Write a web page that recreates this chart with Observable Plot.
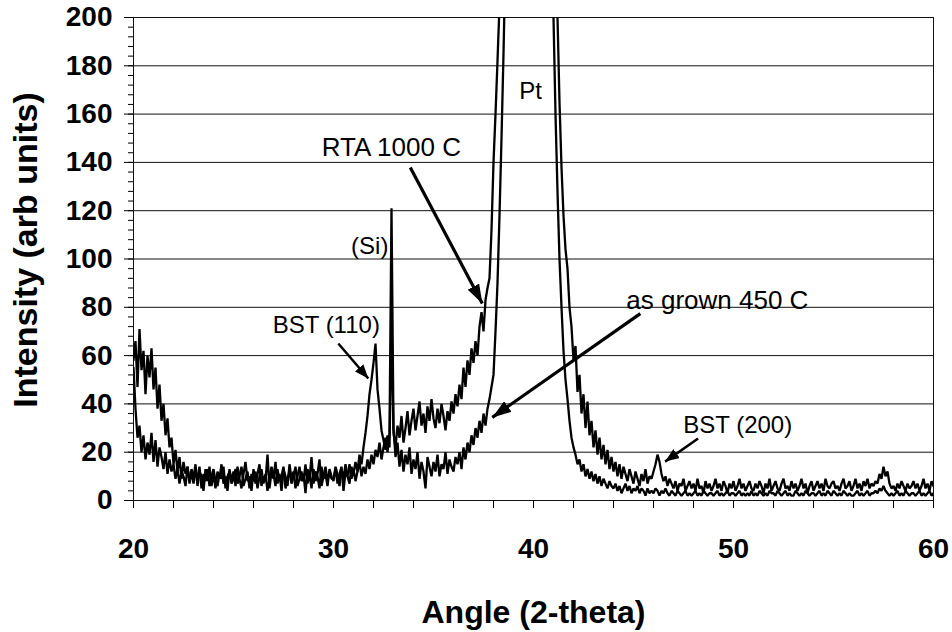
<!DOCTYPE html>
<html><head><meta charset="utf-8">
<script src="https://cdn.jsdelivr.net/npm/d3@7"></script>
<script src="https://cdn.jsdelivr.net/npm/@observablehq/plot@0.6"></script>
<style>html,body{margin:0;padding:0;background:#fff;overflow:hidden}#chart svg{display:block}</style>
</head><body><div id="chart"></div><script>
// ---- data ----
const angleStart = 20;
const angleStep = 0.1;
const rta1000C = [
 58,66,47,71,54,62,44,60,51,63,
 46,55,38,48,33,40,27,34,22,26,
 15,21,12,18,9,16,11,14,7,13,
 9,15,6,12,10,4,13,8,14,6,
 11,5,12,9,15,7,10,4,13,8,
 12,6,14,9,5,11,16,8,10,4,
 13,7,11,15,6,10,8,19,5,12,
 9,16,7,11,4,13,10,6,15,9,
 12,5,10,14,8,11,3,13,9,18,
 7,12,10,5,14,9,11,6,13,10,
 8,14,11,6,13,9,15,10,7,14,
 11,16,12,19,15,22,28,35,44,50,
 57,65,46,38,29,25,21,27,22,74,
 28,22,31,26,35,24,30,37,27,33,
 38,29,35,41,31,36,28,39,33,42,
 34,30,38,32,40,35,29,37,33,41,
 36,44,39,48,42,55,47,58,52,63,
 57,66,60,72,78,70,83,88,92,112,
 140,160,182,205,250,310,390,480,580,700,
 850,1000,1200,1350,1450,1500,1450,1350,1200,1050,
 900,780,660,560,480,420,370,330,300,275,
 255,228,200,165,138,118,104,96,80,72,
 58,64,45,52,36,44,30,41,27,33,
 22,29,19,26,17,23,15,21,13,18,
 12,16,10,15,9,14,11,8,13,10,
 7,12,9,6,11,8,13,7,10,9,
 12,15,19,16,11,8,10,6,9,7,
 5,8,4,7,6,9,4,6,8,5,
 7,4,9,5,6,3,8,5,7,4,
 6,9,5,7,4,8,6,3,7,5,
 8,4,6,9,5,7,4,6,8,5,
 4,7,5,8,6,3,7,5,9,4,
 6,8,5,4,7,9,5,6,4,8,
 5,7,4,6,9,5,7,3,6,8,
 4,6,8,5,7,4,9,6,5,7,
 8,5,6,4,7,9,5,6,8,4,
 6,9,5,7,4,8,6,9,5,7,
 6,8,7,11,9,14,10,12,7,5,
 6,4,7,5,8,6,4,7,5,6,
 8,5,7,4,6,9,5,7,4,8,
 6
];
const asGrown450C = [
 55,38,26,31,20,27,17,24,19,28,
 16,25,14,22,18,13,20,11,17,12,
 15,9,13,7,12,10,6,14,8,11,
 7,12,9,14,5,11,8,13,6,10,
 13,8,6,11,9,14,5,10,12,7,
 9,13,7,10,14,6,9,12,5,11,
 8,12,5,10,13,7,11,4,9,14,
 11,6,13,8,10,14,5,9,12,7,
 10,14,6,9,12,8,15,7,11,5,
 13,8,11,17,6,10,14,8,12,9,
 9,13,7,11,14,4,12,10,15,9,
 13,8,12,16,10,14,11,17,13,19,
 15,21,18,24,17,22,26,20,28,121,
 30,18,24,14,21,12,19,15,22,11,
 17,13,20,9,16,12,5,18,14,10,
 16,12,19,10,15,13,20,11,17,14,
 12,18,15,20,13,22,17,24,20,27,
 23,30,26,33,28,36,31,38,42,47,
 52,70,90,118,150,185,225,280,350,440,
 560,700,850,1000,1100,1150,1100,1000,900,780,
 680,600,530,470,420,370,330,295,262,230,
 200,160,128,100,80,62,50,42,33,26,
 22,19,15,17,12,15,10,13,9,12,
 8,11,7,10,6,9,7,5,8,6,
 5,7,4,6,3,5,7,4,6,3,
 5,4,6,3,5,4,2,5,3,4,
 3,5,4,2,4,3,5,3,2,4,
 3,2,4,3,2,3,4,2,3,2,
 3,4,2,3,2,4,3,2,3,3,
 2,3,4,2,3,2,3,4,2,3,
 3,2,3,4,2,3,2,3,2,4,
 2,3,2,4,3,2,3,2,4,3,
 3,2,4,3,2,3,4,2,3,2,
 2,4,3,2,3,2,4,3,2,3,
 3,2,3,4,2,3,2,4,3,2,
 4,3,2,3,2,4,3,2,3,2,
 2,3,4,2,3,2,3,4,2,3,
 3,4,3,5,4,6,4,3,2,3,
 2,3,4,2,3,2,4,3,2,3,
 3,2,3,4,2,3,2,3,4,2,
 3
];
const xTickValues = [20,22,24,26,28,30,32,34,36,38,40,42,44,46,48,50,52,54,56,58,60];
const xTickLabels = [20,30,40,50,60];
const yTickLabels = [0,20,40,60,80,100,120,140,160,180,200];
const yMinorTicks = [0,4,8,12,16,20,24,28,32,36,40,44,48,52,56,60,64,68,72,76,80,84,88,92,96,100,
  104,108,112,116,120,124,128,132,136,140,144,148,152,156,160,164,168,172,176,180,184,188,192,196,200];
const xTitle = "Angle (2-theta)";
const yTitle = "Intensity (arb units)";
const noteText = ["RTA 1000 C","Pt","(Si)","BST (110)","as grown 450 C","BST (200)"];
const noteX = [32.89, 39.86, 31.81, 29.64, 49.19, 50.21];
const noteY = [146.0, 169.4, 105.2, 72.5, 82.8, 31.1];
const arrowX1 = [33.84, 45.34, 30.24, 48.23];
const arrowY1 = [137.9, 77.4, 65.0, 25.7];
const arrowX2 = [37.44, 37.94, 31.74, 46.58];
const arrowY2 = [81.6, 34.4, 50.5, 16.1];

// ---- tables ----
const rows = [];
rta1000C.forEach((v, i) => rows.push({angle: +(angleStart + i * angleStep).toFixed(2), intensity: v, sample: "RTA 1000 C"}));
asGrown450C.forEach((v, i) => rows.push({angle: +(angleStart + i * angleStep).toFixed(2), intensity: v, sample: "as grown 450 C"}));
const notes = noteText.map((t, i) => ({text: t, x: noteX[i], y: noteY[i]}));
const arrows = arrowX1.map((x1, i) => ({x1, y1: arrowY1[i], x2: arrowX2[i], y2: arrowY2[i]}));

function headMarker(len, wid) {
  return (color, context) => {
    const doc = (context && context.document) || document;
    const ns = "http://www.w3.org/2000/svg";
    const m = doc.createElementNS(ns, "marker");
    m.setAttribute("markerUnits", "userSpaceOnUse");
    m.setAttribute("markerWidth", len);
    m.setAttribute("markerHeight", wid);
    m.setAttribute("refX", len);
    m.setAttribute("refY", wid / 2);
    m.setAttribute("orient", "auto");
    const p = doc.createElementNS(ns, "path");
    p.setAttribute("d", `M0,0L${len},${wid / 2}L0,${wid}Z`);
    p.setAttribute("fill", "black");
    p.setAttribute("stroke", "none");
    m.appendChild(p);
    return m;
  };
}

const font = "'Liberation Sans', Arial, Helvetica, sans-serif";
const chart = Plot.plot({
  width: 952,
  height: 632,
  marginLeft: 133,
  marginRight: 19,
  marginTop: 17,
  marginBottom: 132,
  style: {fontFamily: font, background: "white", color: "black", overflow: "visible"},
  x: {domain: [20, 60]},
  y: {domain: [0, 200]},
  marks: [
    Plot.ruleY(yTickLabels, {stroke: "#111", strokeWidth: 1}),
    Plot.ruleX([20, 60], {stroke: "#111", strokeWidth: 1}),
    Plot.line(rows, {x: "angle", y: "intensity", z: "sample", stroke: "black", strokeWidth: 2.3, strokeLinejoin: "miter", clip: true}),
    Plot.axisY(yMinorTicks, {tickSize: 5, tickFormat: () => "", label: null, stroke: "black"}),
    Plot.axisY(yTickLabels, {tickSize: 9, tickPadding: 12, fontSize: 28, fontWeight: "bold", fontFamily: font, label: null, stroke: "black", fill: "black"}),
    Plot.axisX(xTickValues, {tickSize: 8, tickFormat: () => "", label: null, stroke: "black"}),
    Plot.axisX(xTickLabels, {tickSize: 0, tickPadding: 38, fontSize: 28, fontWeight: "bold", fontFamily: font, label: null, fill: "black"}),
    Plot.text([xTitle], {text: d => d, frameAnchor: "bottom", lineAnchor: "middle", textAnchor: "middle", dy: 112, fontSize: 32, fontWeight: "bold", fontFamily: font, fill: "black"}),
    Plot.text([yTitle], {text: d => d, frameAnchor: "left", rotate: -90, textAnchor: "middle", lineAnchor: "middle", dx: -107, dy: -9, fontSize: 34, fontWeight: "bold", fontFamily: font, fill: "black"}),
    Plot.text(notes.filter((d, i) => i === 0 || i === 4), {x: "x", y: "y", text: "text", fontSize: 26, fontFamily: font, fill: "black"}),
    Plot.text(notes.filter((d, i) => !(i === 0 || i === 4)), {x: "x", y: "y", text: "text", fontSize: 24, fontFamily: font, fill: "black"}),
    Plot.link(arrows.slice(0, 2), {x1: "x1", y1: "y1", x2: "x2", y2: "y2", stroke: "black", strokeWidth: 3.2, markerEnd: headMarker(19, 13)}),
    Plot.link(arrows.slice(2), {x1: "x1", y1: "y1", x2: "x2", y2: "y2", stroke: "black", strokeWidth: 2.5, markerEnd: headMarker(14, 11)})
  ]
});
document.getElementById("chart").appendChild(chart);
</script></body></html>
